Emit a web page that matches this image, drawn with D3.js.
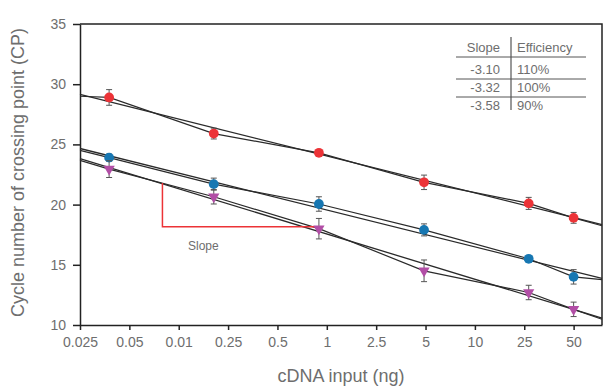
<!DOCTYPE html>
<html>
<head>
<meta charset="utf-8">
<script src="https://cdn.jsdelivr.net/npm/d3@7"></script>
<style>
  body { margin: 0; background: #fff; }
  svg { display: block; font-family: "Liberation Sans", Helvetica, Arial, sans-serif; }
</style>
</head>
<body>
<div id="chart"></div>
<script>
// x positions are in tick-index units (0 = first tick label, 10 = last)
const tickLabels = ['0.025','0.05','0.01','0.25','0.5','1','2.5','5','10','25','50'];
const pointX = [0.59, 2.71, 4.84, 6.97, 9.09, 10.0];

const redCP   = [28.9, 25.9, 24.3, 21.85, 20.1, 18.9];
const redErr  = [0.65, 0.45, 0.25, 0.6, 0.5, 0.45];
const blueCP  = [23.9, 21.7, 20.05, 17.9, 15.5, 14.0];
const blueErr = [0.3, 0.5, 0.6, 0.5, 0.2, 0.6];
const purpCP  = [22.95, 20.65, 18.0, 14.5, 12.7, 11.3];
const purpErr = [0.7, 0.6, 0.85, 0.9, 0.6, 0.6];

const yTicks = [10, 15, 20, 25, 30, 35];

const tableSlope = ['-3.10', '-3.32', '-3.58'];
const tableEff   = ['110%', '100%', '90%'];

// the red "slope" triangle drawn under the purple series
const slopeMarkX = [1.67, 4.84];
const slopeMarkY = [21.8, 18.15];

const series = [
  {name: 'red',    cp: redCP,  err: redErr,  color: '#ec3337', shape: 'circle'},
  {name: 'blue',   cp: blueCP, err: blueErr, color: '#1777b2', shape: 'circle'},
  {name: 'purple', cp: purpCP, err: purpErr, color: '#b24ea6', shape: 'triangle'}
];

const W = 604, H = 387;
const svg = d3.select('#chart').append('svg').attr('width', W).attr('height', H);

const x = d3.scaleLinear().domain([0, 10.575]).range([80, 602]);
const y = d3.scaleLinear().domain([10, 35]).range([325, 24]);

const textCol = '#6e6e6e';
const axisCol = '#222';

// frame (top + right)
svg.append('path')
  .attr('d', `M${x(0)},${y(35)}H${x.range()[1]}V${y(10)}`)
  .attr('fill', 'none').attr('stroke', axisCol).attr('stroke-width', 1.5);

// axes
const xAxis = svg.append('g').attr('transform', `translate(0,${y(10)})`)
  .call(d3.axisBottom(x).tickValues(d3.range(tickLabels.length))
    .tickFormat(i => tickLabels[i]).tickSize(5).tickSizeOuter(0).tickPadding(7));
const yAxis = svg.append('g').attr('transform', `translate(${x(0)},0)`)
  .call(d3.axisLeft(y).tickValues(yTicks).tickSize(7).tickSizeOuter(0).tickPadding(7));

[xAxis, yAxis].forEach(a => {
  a.select('.domain').attr('stroke', axisCol).attr('stroke-width', 1.5);
  a.selectAll('.tick line').attr('stroke', axisCol).attr('stroke-width', 1.5);
  a.selectAll('.tick text').attr('fill', textCol).attr('font-size', 14);
});

// axis titles
svg.append('text')
  .attr('transform', `translate(24,${(y(35) + y(10)) / 2 - 2}) rotate(-90)`)
  .attr('text-anchor', 'middle').attr('font-size', 18).attr('fill', textCol)
  .text('Cycle number of crossing point (CP)');
svg.append('text')
  .attr('x', 341).attr('y', 382)
  .attr('text-anchor', 'middle').attr('font-size', 18).attr('fill', textCol)
  .text('cDNA input (ng)');

// fit lines + joined points
const x0 = x.domain()[0], x1 = x.domain()[1];
const lineGen = d3.line().x(d => x(d[0])).y(d => y(d[1]));
const plot = svg.append('g');

series.forEach(s => {
  const mx = d3.mean(pointX), my = d3.mean(s.cp);
  const b = d3.sum(pointX, (v, i) => (v - mx) * (s.cp[i] - my)) /
            d3.sum(pointX, v => (v - mx) ** 2);
  const fit = v => my + b * (v - mx);
  s.fit = fit;

  plot.append('path')
    .attr('d', lineGen([[x0, fit(x0)], [x1, fit(x1)]]))
    .attr('fill', 'none').attr('stroke', '#2a2a2a').attr('stroke-width', 1.3);

  const pts = [[x0, fit(x0) - 0.15]].concat(pointX.map((v, i) => [v, s.cp[i]]), [[x1, fit(x1) - 0.1]]);
  plot.append('path')
    .attr('d', lineGen(pts))
    .attr('fill', 'none').attr('stroke', '#2a2a2a').attr('stroke-width', 1.2);
});

// slope marker
svg.append('path')
  .attr('d', `M${x(slopeMarkX[0])},${y(slopeMarkY[0])}V${y(slopeMarkY[1])}H${x(slopeMarkX[1])}`)
  .attr('fill', 'none').attr('stroke', '#ec3337').attr('stroke-width', 1.5);
svg.append('text')
  .attr('x', 188).attr('y', 250).attr('font-size', 12).attr('fill', textCol)
  .text('Slope');

// error bars and markers
series.forEach(s => {
  const g = svg.append('g');
  pointX.forEach((v, i) => {
    const cx = x(v), lo = y(s.cp[i] - s.err[i]), hi = y(s.cp[i] + s.err[i]);
    g.append('path')
      .attr('d', `M${cx},${lo}V${hi}M${cx - 3},${lo}H${cx + 3}M${cx - 3},${hi}H${cx + 3}`)
      .attr('fill', 'none').attr('stroke', '#555').attr('stroke-width', 1);
  });
  const sym = d3.symbol()
    .type(s.shape === 'triangle' ? d3.symbolTriangle : d3.symbolCircle)
    .size(s.shape === 'triangle' ? 55 : 75);
  g.selectAll('path.pt').data(pointX).join('path').attr('class', 'pt')
    .attr('d', sym)
    .attr('transform', (v, i) => `translate(${x(v)},${y(s.cp[i])})` + (s.shape === 'triangle' ? ' rotate(180)' : ''))
    .attr('fill', s.color);
});

// efficiency table
const tbl = svg.append('g').attr('font-size', 13).attr('fill', textCol);
const sepX = 511, rowY = [69, 87.5, 105];
tbl.append('text').attr('x', 500).attr('y', 51.5).attr('text-anchor', 'end').text('Slope');
tbl.append('text').attr('x', 517).attr('y', 51.5).text('Efficiency');
tableSlope.forEach((t, i) => {
  tbl.append('text').attr('x', 500).attr('y', rowY[i] + 4.5).attr('text-anchor', 'end').text(t);
  tbl.append('text').attr('x', 517).attr('y', rowY[i] + 4.5).text(tableEff[i]);
});
[57, 79, 97].forEach(ly => {
  tbl.append('line').attr('x1', 456).attr('x2', 586).attr('y1', ly).attr('y2', ly)
    .attr('stroke', '#555').attr('stroke-width', 1);
});
tbl.append('line').attr('x1', sepX).attr('x2', sepX).attr('y1', 37).attr('y2', 110)
  .attr('stroke', '#555').attr('stroke-width', 1.2);
</script>
</body>
</html>
